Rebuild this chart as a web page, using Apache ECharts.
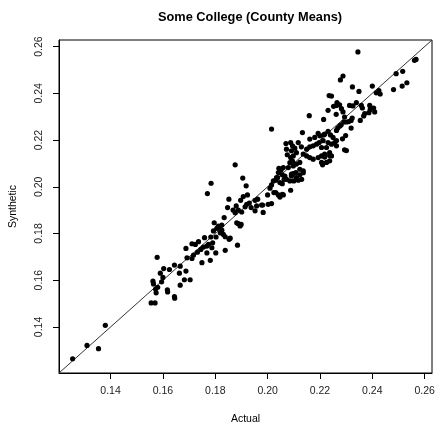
<!DOCTYPE html>
<html>
<head>
<meta charset="utf-8">
<script src="https://cdn.jsdelivr.net/npm/echarts@6/dist/echarts.min.js"></script>
<style>
html,body{margin:0;padding:0;background:#fff;}
#chart{width:438px;height:434px;}
</style>
</head>
<body>
<div id="chart"></div>
<script>
// Tick labels
const xTicks = [0.14, 0.16, 0.18, 0.20, 0.22, 0.24, 0.26];
const yTicks = [0.14, 0.16, 0.18, 0.20, 0.22, 0.24, 0.26];
const axisMin = 0.1203;
const axisMax = 0.2628;

// [Actual, Synthetic] points, grouped by Actual range
const lowTail = [[0.1255,0.1264],[0.1310,0.1321],[0.1354,0.1307],[0.1380,0.1407]];
const group16 = [[0.1555,0.1503],[0.1570,0.1503],[0.1574,0.1546],[0.1580,0.1570],[0.1595,0.1593],[0.1562,0.1596],[0.1564,0.1584],[0.1578,0.1698],[0.1590,0.1630],[0.1603,0.1650],[0.1625,0.1646],[0.1644,0.1665],[0.1666,0.1660],[0.1617,0.1559],[0.1618,0.1550],[0.1644,0.1530],[0.1645,0.1523],[0.1666,0.1579],[0.1682,0.1602],[0.1663,0.1630],[0.1688,0.1639],[0.1688,0.1736],[0.1692,0.1696],[0.1572,0.1562],[0.1600,0.1612]];
const group18 = [[0.1704,0.1602],[0.1711,0.1693],[0.1717,0.1708],[0.1711,0.1756],[0.1724,0.1753],[0.1736,0.1765],[0.1745,0.1732],[0.1755,0.1742],[0.1768,0.1746],[0.1774,0.1754],[0.1787,0.1739],[0.1768,0.1717],[0.1749,0.1675],[0.1781,0.1685],[0.1802,0.1717],[0.1759,0.1782],[0.1783,0.1785],[0.1803,0.1785],[0.1793,0.1811],[0.1806,0.1822],[0.1816,0.1825],[0.1825,0.1814],[0.1831,0.1796],[0.1819,0.1803],[0.1796,0.1846],[0.1825,0.1836],[0.1838,0.1786],[0.1857,0.1780],[0.1838,0.1728],[0.1853,0.1775],[0.1834,0.1868],[0.1812,0.1832],[0.1770,0.1971],[0.1784,0.2015],[0.1732,0.1720],[0.1790,0.1760]];
const group19 = [[0.1876,0.2094],[0.1905,0.2037],[0.1918,0.2004],[0.1923,0.1965],[0.1907,0.1958],[0.1897,0.1942],[0.1852,0.1947],[0.1847,0.1911],[0.1880,0.1918],[0.1888,0.1900],[0.1901,0.1892],[0.1914,0.1914],[0.1920,0.1925],[0.1876,0.1889],[0.1888,0.1842],[0.1895,0.1832],[0.1885,0.1750],[0.1952,0.1942],[0.1958,0.1918],[0.1937,0.1911],[0.1977,0.1922],[0.1952,0.1897],[0.1983,0.1890],[0.1962,0.1947],[0.1882,0.1846],[0.1899,0.1839],[0.1930,0.1930],[0.1868,0.1900]];
const group20 = [[0.2002,0.1925],[0.2015,0.1928],[0.2000,0.1965],[0.2009,0.1994],[0.2015,0.2008],[0.2031,0.2028],[0.2038,0.2039],[0.2043,0.2079],[0.2051,0.2071],[0.2056,0.2051],[0.2063,0.2032],[0.2047,0.2018],[0.2056,0.2013],[0.2031,0.1975],[0.2041,0.1965],[0.2047,0.1956],[0.2056,0.1968],[0.2015,0.2247],[0.1981,0.1922],[0.2024,0.1975],[0.2060,0.1965],[0.2088,0.1985],[0.2091,0.2046],[0.2098,0.2056],[0.2110,0.2039],[0.2123,0.2051],[0.2136,0.2060],[0.2100,0.2025],[0.2117,0.2028],[0.2130,0.2032],[0.2047,0.2075],[0.2041,0.2061],[0.2060,0.2082],[0.2034,0.2039],[0.2022,0.2025],[0.2072,0.2032],[0.2085,0.2025],[0.2066,0.2046]];
const group21 = [[0.2070,0.2185],[0.2072,0.2161],[0.2088,0.2189],[0.2095,0.2175],[0.2104,0.2165],[0.2117,0.2189],[0.2129,0.2171],[0.2110,0.2146],[0.2075,0.2137],[0.2088,0.2125],[0.2085,0.2103],[0.2079,0.2082],[0.2095,0.2110],[0.2091,0.2154],[0.2098,0.2132],[0.2123,0.2104],[0.2110,0.2097],[0.2098,0.2089],[0.2123,0.2075],[0.2108,0.2061],[0.2091,0.2054],[0.2136,0.2068],[0.2133,0.2232],[0.2136,0.2140],[0.2149,0.2132],[0.2161,0.2125],[0.2174,0.2118],[0.2149,0.2161],[0.2161,0.2171],[0.2174,0.2175],[0.2161,0.2204]];
const group22 = [[0.2180,0.2211],[0.2200,0.2218],[0.2218,0.2225],[0.2231,0.2237],[0.2240,0.2222],[0.2250,0.2211],[0.2256,0.2189],[0.2244,0.2182],[0.2231,0.2189],[0.2212,0.2197],[0.2197,0.2189],[0.2187,0.2182],[0.2206,0.2168],[0.2225,0.2168],[0.2263,0.2175],[0.2193,0.2125],[0.2206,0.2132],[0.2218,0.2140],[0.2237,0.2146],[0.2244,0.2132],[0.2206,0.2104],[0.2225,0.2104],[0.2237,0.2111],[0.2193,0.2228],[0.2214,0.2222],[0.2237,0.2134],[0.2218,0.2127],[0.2210,0.2094],[0.2263,0.2198],[0.2298,0.2219],[0.2286,0.2205],[0.2294,0.2158],[0.2301,0.2155]];
const group23 = [[0.2159,0.2304],[0.2214,0.2288],[0.2231,0.2327],[0.2252,0.2344],[0.2262,0.2310],[0.2235,0.2390],[0.2244,0.2388],[0.2265,0.2360],[0.2263,0.2348],[0.2275,0.2351],[0.2282,0.2334],[0.2288,0.2320],[0.2294,0.2298],[0.2319,0.2284],[0.2323,0.2294],[0.2310,0.2279],[0.2301,0.2277],[0.2291,0.2277],[0.2281,0.2265],[0.2276,0.2260],[0.2268,0.2251],[0.2263,0.2241],[0.2319,0.2251],[0.2354,0.2284],[0.2313,0.2348],[0.2326,0.2346],[0.2339,0.2360],[0.2358,0.2348],[0.2362,0.2337],[0.2371,0.2313],[0.2367,0.2303],[0.2387,0.2317],[0.2288,0.2474],[0.2278,0.2457],[0.2324,0.2427],[0.2349,0.2408],[0.2345,0.2577]];
const group24 = [[0.2390,0.2348],[0.2392,0.2331],[0.2405,0.2337],[0.2409,0.2320],[0.2400,0.2431],[0.2415,0.2402],[0.2425,0.2411],[0.2430,0.2397],[0.2481,0.2416],[0.2514,0.2431],[0.2532,0.2445],[0.2491,0.2484],[0.2516,0.2494],[0.2561,0.2541],[0.2567,0.2545]];

const allPoints = [].concat(lowTail, group16, group18, group19, group20, group21, group22, group23, group24);
const diagonal = [[axisMin, axisMin], [axisMax, axisMax]];

const FONT = '"Liberation Sans", Arial, Helvetica, sans-serif';
const chart = echarts.init(document.getElementById('chart'), null, {renderer: 'canvas'});
chart.setOption({
  animation: false,
  backgroundColor: '#ffffff',
  title: {
    text: 'Some College (County Means)',
    left: 245, top: 6,
    textAlign: 'center',
    textStyle: {fontFamily: FONT, fontWeight: 'bold', fontSize: 12.8, color: '#000'}
  },
  grid: {
    left: 58, right: 6, top: 40, bottom: 61,
    show: true, borderColor: '#000', borderWidth: 1, backgroundColor: 'transparent'
  },
  xAxis: {
    type: 'value', min: axisMin, max: axisMax,
    name: 'Actual', nameLocation: 'middle', nameGap: 41,
    nameTextStyle: {fontFamily: FONT, fontSize: 10.5, color: '#000'},
    axisLine: {show: true, onZero: false, lineStyle: {color: '#000', width: 1}},
    axisTick: {show: true, inside: false, length: 6, customValues: xTicks, lineStyle: {color: '#000'}},
    axisLabel: {show: true, margin: 13, customValues: xTicks, fontFamily: FONT, fontSize: 10.5, color: '#222',
      formatter: v => v.toFixed(2)},
    splitLine: {show: false}
  },
  yAxis: {
    type: 'value', min: axisMin, max: axisMax,
    name: 'Synthetic', nameLocation: 'middle', nameGap: 40, nameRotate: 90,
    nameTextStyle: {fontFamily: FONT, fontSize: 10.5, color: '#000'},
    axisLine: {show: true, onZero: false, lineStyle: {color: '#000', width: 1}},
    axisTick: {show: true, inside: false, length: 6, customValues: yTicks, lineStyle: {color: '#000'}},
    axisLabel: {show: true, margin: 14, rotate: 90, customValues: yTicks, fontFamily: FONT, fontSize: 10.5, color: '#222',
      formatter: v => v.toFixed(2)},
    splitLine: {show: false}
  },
  series: [
    {
      type: 'line', data: diagonal, symbol: 'none', silent: true,
      lineStyle: {color: '#333', width: 1}, z: 1
    },
    {
      type: 'scatter', data: allPoints, symbol: 'circle', symbolSize: 5.2,
      itemStyle: {color: '#000', opacity: 1}, z: 2
    }
  ]
});
</script>
</body>
</html>
